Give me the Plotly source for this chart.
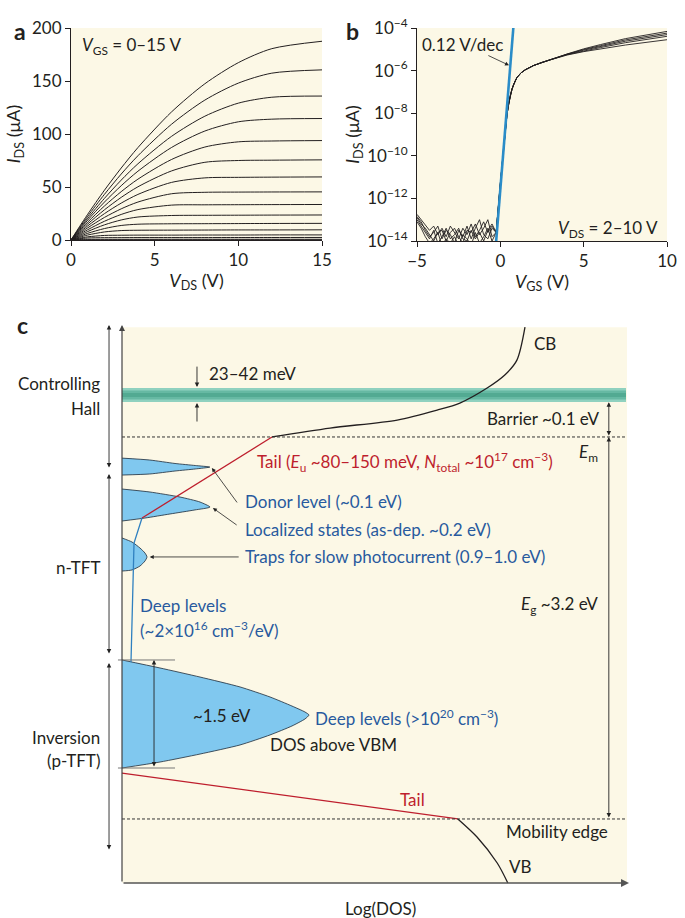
import numpy as np
import plotly.graph_objects as go

CREAM = "#fcf8e6"
INK = "#231f20"
BLUE_FILL = "#80c8ef"
BLUE_TXT = "#285a9e"
BLUE_LINE = "#2f80c0"
RED = "#be1e2d"
FONT = "Lato"
TXT = 17

# ---------------- panel a : output curves, V_GS = 15 ... 0 V
vds = [0, 0.5, 1, 2, 3, 4, 6, 8, 10, 12, 15]
ids_curves = [
    [0, 12.4, 24.3, 47.0, 67.9, 87.2, 120.7, 147.4, 167.3, 180.5, 187.5],
    [0, 11.4, 22.4, 43.1, 62.2, 79.5, 109.1, 132.0, 148.0, 157.4, 160.5],
    [0, 10.5, 20.5, 39.3, 56.5, 71.9, 97.7, 116.8, 129.1, 134.7, 135.8],
    [0, 9.6, 18.8, 35.8, 51.2, 64.9, 87.2, 102.8, 111.5, 114.0, 114.6],
    [0, 8.7, 16.9, 32.1, 45.6, 57.4, 75.9, 87.7, 92.6, 93.4, 93.8],
    [0, 7.7, 15.1, 28.5, 40.2, 50.2, 65.1, 73.3, 75.0, 75.3, 75.6],
    [0, 6.9, 13.3, 24.9, 34.8, 43.0, 54.3, 58.6, 59.1, 59.3, 59.5],
    [0, 6.0, 11.5, 21.3, 29.4, 35.8, 43.6, 45.0, 45.2, 45.3, 45.4],
    [0, 5.1, 9.7, 17.7, 24.1, 28.7, 32.9, 33.2, 33.3, 33.4, 33.5],
    [0, 4.2, 8.0, 14.3, 18.9, 21.7, 23.1, 23.3, 23.4, 23.5, 23.6],
    [0, 3.3, 6.3, 10.8, 13.7, 14.9, 15.3, 15.4, 15.5, 15.6, 15.7],
    [0, 2.5, 4.7, 7.6, 8.9, 9.2, 9.3, 9.4, 9.5, 9.5, 9.6],
    [0, 1.7, 3.0, 4.3, 4.5, 4.6, 4.6, 4.7, 4.7, 4.8, 4.8],
    [0, 1.15, 1.9, 2.2, 2.25, 2.3, 2.3, 2.3, 2.35, 2.35, 2.4],
    [0, 0.5, 0.6, 0.65, 0.65, 0.65, 0.7, 0.7, 0.7, 0.7, 0.7],
    [0, 0.1, 0.15, 0.15, 0.15, 0.15, 0.15, 0.15, 0.15, 0.15, 0.15],
]

# ---------------- panel b : transfer curves (log10 of I_DS), V_DS = 2,4,6,8,10 V
vgs_off = [-5.0, -4.75, -4.5, -4.25, -4.0, -3.75, -3.5, -3.25, -3.0, -2.75,
           -2.5, -2.25, -2.0, -1.75, -1.5, -1.25, -1.0, -0.75, -0.5, -0.25]
log_off = [
    [-12.75, -13.0, -13.3, -13.5, -13.3, -13.7, -13.4, -13.8, -13.3, -13.6,
     -13.9, -13.4, -13.7, -13.2, -13.8, -13.5, -13.1, -13.6, -13.3, -13.6],
    [-12.85, -13.1, -13.5, -13.8, -13.6, -13.3, -13.9, -13.5, -13.7, -14.1,
     -13.5, -13.8, -13.3, -13.9, -13.4, -13.0, -13.7, -13.9, -13.4, -13.6],
    [-12.9, -13.2, -13.4, -13.7, -14.0, -13.6, -13.5, -14.0, -13.6, -13.4,
     -13.8, -14.1, -13.5, -13.6, -13.2, -13.7, -13.4, -13.0, -13.8, -13.6],
    [-13.0, -13.3, -13.6, -13.9, -13.5, -14.1, -13.8, -13.4, -13.9, -13.7,
     -13.4, -13.9, -14.0, -13.5, -13.9, -13.6, -14.0, -13.5, -13.2, -13.6],
    [-13.1, -13.4, -13.8, -14.1, -13.9, -13.6, -14.2, -13.9, -14.1, -13.8,
     -14.2, -13.7, -13.9, -14.2, -13.6, -14.1, -13.8, -13.4, -14.0, -13.6],
]
vgs_on = [0, 0.2, 0.4, 0.5, 0.6, 0.7, 0.8, 0.9, 1.0, 1.25, 1.5, 2, 2.5, 3]
log_on = [-11.3, -9.6, -8.05, -7.55, -7.15, -6.87, -6.65, -6.47, -6.32,
          -6.1, -5.96, -5.76, -5.61, -5.49]
vgs_hi = [4, 5, 6, 7.5, 10]
log_hi = [
    [-5.27, -5.11, -4.98, -4.80, -4.55],
    [-5.25, -5.07, -4.92, -4.69, -4.39],
    [-5.24, -5.04, -4.87, -4.62, -4.31],
    [-5.23, -5.01, -4.83, -4.56, -4.24],
    [-5.22, -4.98, -4.78, -4.50, -4.16],
]
fit_vgs = [-0.25, 0.78]
fit_log = [-14.0, -4.0]

# ---------------- panel c : DOS schematic (x = log DOS, arb. 0-100; y = energy in eV above VB mobility edge)
e_cb_edge = 3.2
e_vb_edge = 0.0
e_band = 3.551
e_top = 4.12
e_bottom = -0.536
e_deep_top = 1.332
e_deep_bot = 0.427

cb_x = [29.7, 41.2, 54.5, 62.4, 66.9, 72.3, 75.8, 78.2, 79.8]
cb_e = [3.2, 3.275, 3.342, 3.425, 3.484, 3.61, 3.719, 3.844, 4.12]
cb_tail_x = [29.7, 3.96]
cb_tail_e = [3.2, 2.521]
deep_line_x = [3.96, 2.38, 1.78]
deep_line_e = [2.521, 2.312, 1.315]
vb_tail_x = [0, 66.5]
vb_tail_e = [0.385, 0.0]
vb_x = [66.5, 70.3, 74.3, 76.4]
vb_e = [0.0, -0.151, -0.369, -0.536]

donor_x = [0, 5.5, 10.5, 14.5, 17.4, 14.5, 10.5, 5.5, 0]
donor_e = [3.023, 3.007, 2.978, 2.961, 2.948, 2.932, 2.915, 2.890, 2.881]
loc_x = [0, 5.54, 11.49, 15.45, 17.43, 14.46, 9.5, 4.55, 0]
loc_e = [2.764, 2.739, 2.697, 2.655, 2.613, 2.589, 2.555, 2.521, 2.496]
trap_x = [0, 1.98, 3.56, 4.55, 4.95, 4.55, 3.56, 1.98, 0]
trap_e = [2.354, 2.320, 2.270, 2.228, 2.195, 2.161, 2.119, 2.086, 2.077]
deep_x = [0, 7.52, 15.45, 23.37, 29.31, 33.66, 36.24, 37.03,
          36.24, 33.66, 29.31, 23.37, 15.45, 7.52, 0]
deep_e = [1.332, 1.265, 1.189, 1.106, 1.022, 0.946, 0.896, 0.871,
          0.838, 0.779, 0.704, 0.620, 0.544, 0.477, 0.427]

fig = go.Figure()

for y in ids_curves:
    fig.add_trace(go.Scatter(x=vds, y=y, mode="lines", xaxis="x", yaxis="y",
                             line=dict(color=INK, width=1, shape="spline", smoothing=0.8)))

for off, hi in zip(log_off, log_hi):
    xs = vgs_off + vgs_on + vgs_hi
    ys = 10 ** np.array(off + log_on + hi)
    fig.add_trace(go.Scatter(x=xs, y=ys, mode="lines", xaxis="x2", yaxis="y2",
                             line=dict(color=INK, width=0.9)))
fig.add_trace(go.Scatter(x=fit_vgs, y=10 ** np.array(fit_log), mode="lines", xaxis="x2", yaxis="y2",
                         line=dict(color="#2a8cc8", width=2.6)))

# panel c marks
def blob(xs, es):
    fig.add_trace(go.Scatter(x=xs, y=es, mode="lines", fill="toself", fillcolor=BLUE_FILL,
                             xaxis="x3", yaxis="y3", line=dict(color="#1d2b3a", width=0.8,
                                                               shape="spline", smoothing=0.6)))

blob(donor_x, donor_e)
blob(loc_x, loc_e)
blob(trap_x, trap_e)
blob(deep_x, deep_e)

for w, c in [(14, "#8fd1bf"), (9, "#66b9a3"), (4, "#52aa92")]:
    fig.add_trace(go.Scatter(x=[0, 99.8], y=[e_band, e_band], mode="lines", xaxis="x3", yaxis="y3",
                             line=dict(color=c, width=w)))

fig.add_trace(go.Scatter(x=cb_x, y=cb_e, mode="lines", xaxis="x3", yaxis="y3",
                         line=dict(color=INK, width=1.3, shape="spline", smoothing=0.8)))
fig.add_trace(go.Scatter(x=cb_tail_x, y=cb_tail_e, mode="lines", xaxis="x3", yaxis="y3",
                         line=dict(color=RED, width=1.3)))
fig.add_trace(go.Scatter(x=deep_line_x, y=deep_line_e, mode="lines", xaxis="x3", yaxis="y3",
                         line=dict(color=BLUE_LINE, width=1.3)))
fig.add_trace(go.Scatter(x=vb_tail_x, y=vb_tail_e, mode="lines", xaxis="x3", yaxis="y3",
                         line=dict(color=RED, width=1.3)))
fig.add_trace(go.Scatter(x=vb_x, y=vb_e, mode="lines", xaxis="x3", yaxis="y3",
                         line=dict(color=INK, width=1.3, shape="spline", smoothing=0.8)))

shapes = [
    dict(type="rect", xref="x domain", yref="y domain", x0=0, x1=1, y0=0, y1=1,
         fillcolor=CREAM, line_width=0, layer="below"),
    dict(type="rect", xref="x2 domain", yref="y2 domain", x0=0, x1=1, y0=0, y1=1,
         fillcolor=CREAM, line_width=0, layer="below"),
    dict(type="rect", xref="x3", yref="y3", x0=0, x1=100, y0=e_bottom, y1=e_top,
         fillcolor=CREAM, line_width=0, layer="below"),
]
for e in (e_cb_edge, e_vb_edge):
    shapes.append(dict(type="line", xref="x3", yref="y3", x0=0, x1=100, y0=e, y1=e,
                       line=dict(color="#333", width=1, dash="3px,2px")))
for e in (e_deep_top, e_deep_bot):
    shapes.append(dict(type="line", xref="x3", yref="y3", x0=-0.8, x1=10.5, y0=e, y1=e,
                       line=dict(color="#777", width=1)))


def arrow(x0, y0, x1, y1, both=False, width=0.9, color="#222"):
    return dict(x=x1, y=y1, ax=x0, ay=y0, xref="x3", yref="y3", axref="x3", ayref="y3",
                text="", showarrow=True, arrowhead=2, arrowsize=1, arrowwidth=width,
                arrowcolor=color, startarrowhead=2, startarrowsize=1,
                arrowside="end+start" if both else "end")


def label(x, y, text, anchor="left", color=INK, size=TXT, xref="x3", yref="y3"):
    return dict(x=x, y=y, text=text, xref=xref, yref=yref, xanchor=anchor, yanchor="middle",
                showarrow=False, font=dict(family=FONT, size=size, color=color))


ann = []
# axes of panel c
ann.append(arrow(0, e_bottom, 0, 4.138, width=1.2, color="#444"))
ann.append(arrow(0, e_bottom, 100.4, e_bottom, width=1.6, color="#555"))
# left range arrows
ann.append(arrow(-2.57, 2.932, -2.57, 4.138, both=True))
ann.append(arrow(-2.57, 1.374, -2.57, 2.890, both=True))
ann.append(arrow(-2.57, -0.268, -2.57, 1.307, both=True))
# 23-42 meV
ann.append(arrow(14.85, 3.802, 14.85, 3.618))
ann.append(arrow(14.85, 3.317, 14.85, 3.484))
# barrier and gap
ann.append(arrow(96.4, e_cb_edge, 96.4, 3.492, both=True))
ann.append(arrow(96.4, e_vb_edge, 96.4, e_cb_edge, both=True))
# ~1.5 eV
ann.append(arrow(6.34, e_deep_bot, 6.34, e_deep_top, both=True))
# leaders
ann.append(arrow(23.0, 2.639, 17.8, 2.94, width=0.8))
ann.append(arrow(23.0, 2.454, 18.0, 2.605, width=0.8))
ann.append(arrow(23.4, 2.195, 5.5, 2.195, width=0.8))

ann += [
    label(-3.96, 3.644, "Controlling", "right"),
    label(-3.96, 3.435, "Hall", "right"),
    label(-3.96, 2.103, "n-TFT", "right"),
    label(-3.96, 0.679, "Inversion", "right"),
    label(-3.96, 0.486, "(p-TFT)", "right"),
    label(16.83, 3.736, "23–42 meV"),
    label(81.2, 3.979, "CB"),
    label(95.05, 3.351, "Barrier ~0.1 eV", "right"),
    label(94.65, 3.066, "<i>E</i><sub>m</sub>", "right"),
    label(26.34, 2.991, "Tail (<i>E</i><sub>u</sub> ~80–150 meV, <i>N</i><sub>total</sub> ~10<sup>17</sup> cm<sup>−3</sup>)",
          color=RED),
    label(23.96, 2.656, "Donor level (~0.1 eV)", color=BLUE_TXT),
    label(23.96, 2.429, "Localized states (as-dep. ~0.2 eV)", color=BLUE_TXT),
    label(23.96, 2.195, "Traps for slow photocurrent (0.9–1.0 eV)", color=BLUE_TXT),
    label(94.65, 1.793, "<i>E</i><sub>g</sub> ~3.2 eV", "right"),
    label(3.17, 1.785, "Deep levels", color=BLUE_TXT),
    label(3.17, 1.59, "(~2×10<sup>16</sup> cm<sup>−3</sup>/eV)", color=BLUE_TXT),
    label(19.8, 0.863, "~1.5 eV", "center"),
    label(37.8, 0.846, "Deep levels (>10<sup>20</sup> cm<sup>−3</sup>)", color=BLUE_TXT),
    label(28.9, 0.62, "DOS above VBM"),
    label(57.6, 0.159, "Tail", "center", color=RED),
    label(75.6, -0.109, "Mobility edge"),
    label(76.2, -0.394, "VB"),
    label(380 / 685, 1 - 908 / 918, "Log(DOS)", "center", xref="paper", yref="paper"),
    # panel a / b texts
    label(0.54, 183, "<i>V</i><sub>GS</sub> = 0–15 V", xref="x", yref="y"),
    label(-2.27, -4.78, "0.12 V/dec", "center", xref="x2", yref="y2"),
    label(9.57, -13.42, "<i>V</i><sub>DS</sub> = 2–10 V", "right", xref="x2", yref="y2"),
    dict(x=0.52, y=-5.75, ax=-0.81, ay=-5.26, xref="x2", yref="y2", axref="x2", ayref="y2",
         text="", showarrow=True, arrowhead=2, arrowsize=1, arrowwidth=0.8, arrowcolor="#222"),
    # panel letters
    dict(x=12 / 685, y=1 - 15 / 918, xref="paper", yref="paper", text="<b>a</b>", showarrow=False,
         font=dict(family=FONT, size=23, color=INK)),
    dict(x=352 / 685, y=1 - 15 / 918, xref="paper", yref="paper", text="<b>b</b>", showarrow=False,
         font=dict(family=FONT, size=23, color=INK)),
    dict(x=15 / 685, y=1 - 325 / 918, xref="paper", yref="paper", text="<b>c</b>", showarrow=False,
         font=dict(family=FONT, size=23, color=INK)),
]

axis_style = dict(showline=True, linecolor=INK, linewidth=1, ticks="outside", ticklen=5,
                  tickcolor=INK, showgrid=False, zeroline=False, mirror=False, automargin=False,
                  tickfont=dict(family=FONT, size=17, color=INK),
                  title_font=dict(family=FONT, size=18, color=INK))

fig.update_layout(
    width=685, height=918, showlegend=False,
    margin=dict(l=0, r=0, t=0, b=0),
    paper_bgcolor="white", plot_bgcolor="white",
    font=dict(family=FONT, color=INK),
    xaxis=dict(domain=[71 / 685, 322 / 685], range=[0, 15], anchor="y", tickvals=[0, 5, 10, 15],
               title=dict(text="<i>V</i><sub>DS</sub> (V)", standoff=4), **axis_style),
    yaxis=dict(domain=[1 - 240 / 918, 1 - 28 / 918], range=[0, 200], anchor="x",
               tickvals=[0, 50, 100, 150, 200],
               title=dict(text="<i>I</i><sub>DS</sub> (μA)", standoff=6), **axis_style),
    xaxis2=dict(domain=[417 / 685, 667 / 685], range=[-5, 10], anchor="y2", tickvals=[-5, 0, 5, 10],
                ticktext=["−5", "0", "5", "10"],
                title=dict(text="<i>V</i><sub>GS</sub> (V)", standoff=4), **axis_style),
    yaxis2=dict(domain=[1 - 241 / 918, 1 - 28 / 918], type="log", range=[-14, -4], anchor="x2",
                tickvals=[1e-4, 1e-6, 1e-8, 1e-10, 1e-12, 1e-14],
                ticktext=["10<sup>−4</sup>", "10<sup>−6</sup>", "10<sup>−8</sup>",
                          "10<sup>−10</sup>", "10<sup>−12</sup>", "10<sup>−14</sup>"],
                title=dict(text="<i>I</i><sub>DS</sub> (μA)", standoff=2), **axis_style),
    xaxis3=dict(domain=[95 / 685, 640 / 685], range=[-5.347, 102.574], anchor="y3", visible=False,
                automargin=False),
    yaxis3=dict(domain=[1 - 890 / 918, 1 - 320 / 918], range=[-0.595, 4.180], anchor="x3", visible=False,
                automargin=False),
    shapes=shapes,
    annotations=ann,
)

fig.write_html("out.html", config={"displayModeBar": False},
               post_script="document.body.style.margin='0';document.body.style.overflow='hidden';")
